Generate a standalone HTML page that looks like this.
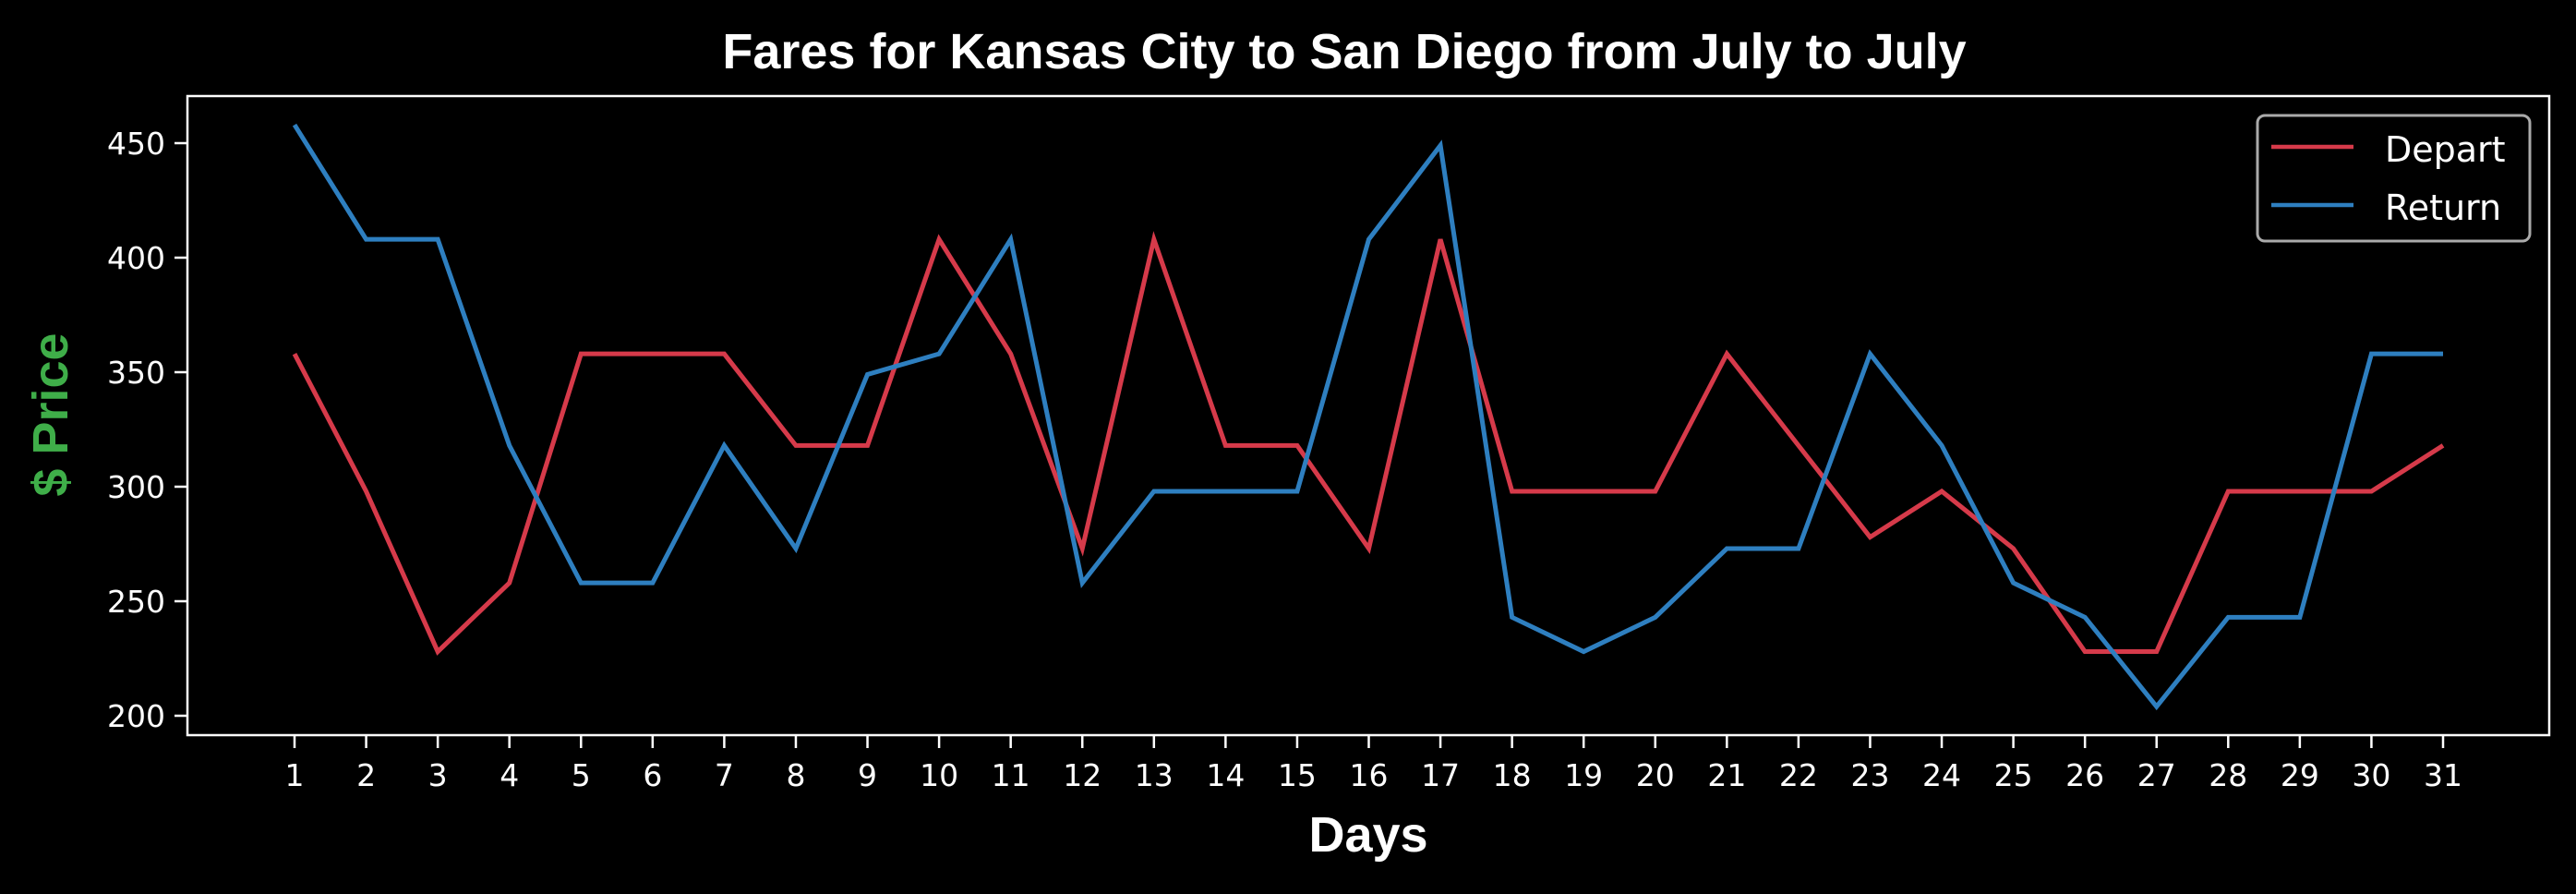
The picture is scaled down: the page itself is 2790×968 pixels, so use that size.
<!DOCTYPE html>
<html><head><meta charset="utf-8"><style>
body{margin:0;background:#000;}
svg{display:block;}
text{font-family:"DejaVu Sans","Liberation Sans",sans-serif;}
.cond{font-family:"Liberation Sans",sans-serif;}
</style></head><body>
<svg id="chart" width="2790" height="968" xmlns="http://www.w3.org/2000/svg"></svg>
<script>
const days = [1,2,3,4,5,6,7,8,9,10,11,12,13,14,15,16,17,18,19,20,21,22,23,24,25,26,27,28,29,30,31];
const departValues = [358,298,228,258,358,358,358,318,318,408,358,273,408,318,318,273,408,298,298,298,358,318,278,298,273,228,228,298,298,298,318];
const returnValues = [458,408,408,318,258,258,318,273,349,358,408,258,298,298,298,408,449,243,228,243,273,273,358,318,258,243,204,243,243,358,358];
const yTicks = [200,250,300,350,400,450];

const NS="http://www.w3.org/2000/svg";
const svg=document.getElementById('chart');
const L=203,R=2761,T=104,B=796;
function xs(d){return 319+(d-1)*(2646-319)/30;}
function ys(v){return 775+(v-200)*(155-775)/250;}
function mk(tag,attrs,parent){const e=document.createElementNS(NS,tag);for(const k in attrs)e.setAttribute(k,attrs[k]);(parent||svg).appendChild(e);return e;}

const frame=mk('rect',{x:L,y:T,width:R-L,height:B-T,fill:'none',stroke:'#fff','stroke-width':2.5});



yTicks.forEach(v=>{
  const y=ys(v);
  const tk=mk('line',{x1:L-14,x2:L,y1:y,y2:y,stroke:'#fff','stroke-width':2.5});
  
  
  const t=mk('text',{x:L-24,y:y+12,fill:'#fff','font-size':33,'text-anchor':'end'});
  t.textContent=v;
  
  
});
days.forEach(d=>{
  const x=xs(d);
  const tk=mk('line',{x1:x,x2:x,y1:B,y2:B+14,stroke:'#fff','stroke-width':2.5});
  
  
  const t=mk('text',{x:x,y:B+55,fill:'#fff','font-size':33,'text-anchor':'middle'});
  t.textContent=d;
  
  
});

function series(vals,color,name){
  const p=mk('polyline',{points:vals.map((v,i)=>xs(days[i])+','+ys(v)).join(' '),fill:'none',stroke:color,'stroke-width':5,'stroke-linejoin':'miter'});
  
  
}
series(departValues,'#d63a4a','depart-line');
series(returnValues,'#2e7fc0','return-line');

const lg=mk('rect',{x:2445,y:125,width:295,height:136,rx:8,fill:'#000',stroke:'#aaa','stroke-width':3});


[['Depart','#d63a4a',159],['Return','#2e7fc0',222]].forEach(([n,c,y])=>{
  const l=mk('line',{x1:2460,x2:2549,y1:y,y2:y,stroke:c,'stroke-width':4.5});
  
  
  const t=mk('text',{x:2583,y:y+16,fill:'#fff','font-size':38});
  t.textContent=n;
  
  
});

const title=mk('text',{class:'cond',x:1456,y:74,fill:'#fff','font-size':54,'font-weight':'bold','text-anchor':'middle'});
title.textContent='Fares for Kansas City to San Diego from July to July';



const xl=mk('text',{class:'cond',x:1482,y:922,fill:'#fff','font-size':54,'font-weight':'bold','text-anchor':'middle'});
xl.textContent='Days';



const yl=mk('text',{class:'cond',x:0,y:0,fill:'#3fae49','font-size':54,'font-weight':'bold','text-anchor':'middle',transform:'translate(73,449) rotate(-90)'});
yl.textContent='$ Price';


</script>
</body></html>
